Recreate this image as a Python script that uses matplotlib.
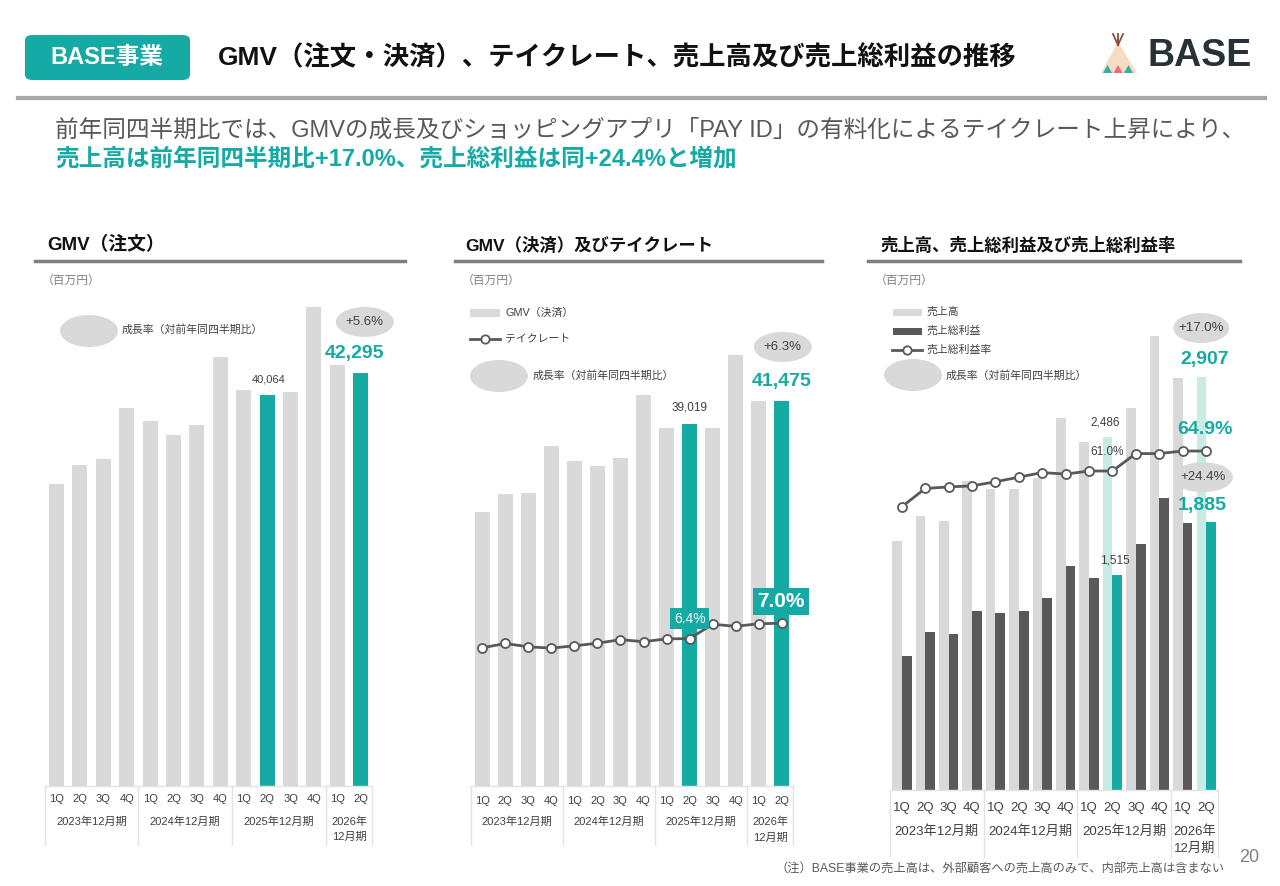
import matplotlib
matplotlib.use("Agg")
import matplotlib.pyplot as plt
from matplotlib.patches import Ellipse, FancyBboxPatch, Polygon, Rectangle
from matplotlib.lines import Line2D
from matplotlib.transforms import blended_transform_factory

plt.rcParams['font.family'] = ['Liberation Sans', 'Noto Sans CJK JP', 'DejaVu Sans']

# ---- data (百万円, %) ----
quarters = ["1Q", "2Q", "3Q", "4Q"] * 3 + ["1Q", "2Q"]
fiscal_years = ["2023年12月期", "2024年12月期", "2025年12月期", "2026年\n12月期"]
year_groups = [(0, 3), (4, 7), (8, 11), (12, 13)]
gmv_order = [30925, 32870, 33485, 38740, 37410, 35940, 36970, 43930,
             40550, 40064, 40350, 49020, 43110, 42295]
gmv_payment = [29510, 31450, 31560, 36650, 35000, 34460, 35290, 42080,
               38590, 39019, 38520, 46390, 41500, 41475]
take_rate = [6.04, 6.21, 6.08, 6.03, 6.12, 6.22, 6.36, 6.28,
             6.39, 6.40, 6.96, 6.88, 6.98, 7.00]
revenue = [1755, 1929, 1896, 2176, 2117, 2117, 2194, 2621,
           2450, 2486, 2692, 3199, 2900, 2907]
gross_profit = [946, 1112, 1096, 1262, 1244, 1262, 1350, 1579,
                1490, 1515, 1730, 2054, 1880, 1885]
gp_margin = [54.0, 57.6, 57.9, 58.1, 58.9, 59.8, 60.7, 60.4,
             61.0, 61.0, 64.4, 64.4, 64.9, 64.9]
highlight = [9, 13]

GRAY = '#D9D9D9'
DARK = '#595959'
TEAL = '#15ABA4'
LTEAL = '#C8ECE5'
TXT = '#404040'

W, H = 1280, 886
fig = plt.figure(figsize=(W / 100, H / 100), dpi=100)


def fy(p):
    return 1 - p / H


def ftext(x, y, s, **kw):
    fig.text(x / W, fy(y), s, **kw)


def fellipse(cx, cy, w, h):
    fig.add_artist(Ellipse((cx / W, fy(cy)), w / W, h / H, transform=fig.transFigure,
                           fc=GRAY, ec='none'))


def frect(x, y, w, h, color):
    fig.add_artist(Rectangle((x / W, fy(y + h)), w / W, h / H, transform=fig.transFigure,
                             fc=color, ec='none'))


def fline(x0, x1, y, color, lw, marker_x=None):
    fig.add_artist(Line2D([x0 / W, x1 / W], [fy(y), fy(y)], transform=fig.transFigure,
                          color=color, lw=lw))
    if marker_x is not None:
        fig.add_artist(Line2D([marker_x / W], [fy(y)], transform=fig.transFigure, marker='o',
                              ms=6, mfc='white', mec=DARK, mew=1.3, color=DARK))


def to_px(ax, x, y):
    # data -> figure pixels measured from top
    dx, dy = ax.transData.transform((x, y))
    return dx, H - dy


def add_panel(x0, x1, base, top, ymax):
    ax = fig.add_axes([x0 / W, fy(base), (x1 - x0) / W, (base - top) / H])
    ax.set_xlim(-0.5, 13.5)
    ax.set_ylim(0, ymax)
    ax.axis('off')
    return ax


def draw_categories(ax, base, q_y, y_y, y2_y, bottom, size):
    tr = blended_transform_factory(ax.transData, fig.transFigure)
    for i, q in enumerate(quarters):
        ax.text(i, fy(q_y), q, transform=tr, ha='center', va='center', fontsize=size, color=TXT)
    for label, (s, e) in zip(fiscal_years, year_groups):
        c = (s + e) / 2
        lines = label.split('\n')
        ax.text(c, fy(y_y), lines[0], transform=tr, ha='center', va='center', fontsize=size, color=TXT)
        if len(lines) > 1:
            ax.text(c, fy(y2_y), lines[1], transform=tr, ha='center', va='center', fontsize=size, color=TXT)
    ax.plot([-0.5, 13.5], [fy(base), fy(base)], transform=tr, color='#E3E3E3', lw=1, clip_on=False)
    for sx in [-0.5, 3.5, 7.5, 11.5, 13.5]:
        ax.plot([sx, sx], [fy(base), fy(bottom)], transform=tr, color='#E3E3E3', lw=1, clip_on=False)


def label_at(ax, x, y, dx, dy, s, **kw):
    px, py = to_px(ax, x, y)
    ftext(px + dx, py + dy, s, ha='center', va='center', **kw)


def ellipse_at(ax, x, y, dx, dy, w, h, s):
    px, py = to_px(ax, x, y)
    fellipse(px + dx, py + dy, w, h)
    ftext(px + dx, py + dy, s, ha='center', va='center', fontsize=9.5, color=TXT)


# ---- header ----
fig.add_artist(FancyBboxPatch((25 / W, fy(80)), 165 / W, 45 / H, transform=fig.transFigure,
                              boxstyle='round,pad=0,rounding_size=0.006', fc=TEAL, ec='none'))
ftext(107, 57, "BASE事業", ha='center', va='center', fontsize=17, fontweight='bold', color='white')
ftext(218, 58, "GMV（注文・決済）、テイクレート、売上高及び売上総利益の推移",
      ha='left', va='center', fontsize=19, fontweight='bold', color='#111111')
fline(18, 1265, 98, '#A6A6A6', 3)
ftext(55, 131, "前年同四半期比では、GMVの成長及びショッピングアプリ「PAY ID」の有料化によるテイクレート上昇により、",
      ha='left', va='center', fontsize=17, color=DARK)
ftext(55, 160, "売上高は前年同四半期比+17.0%、売上総利益は同+24.4%と増加",
      ha='left', va='center', fontsize=17, fontweight='bold', color=TEAL)

# logo
fig.add_artist(Polygon([(1101 / W, fy(73)), (1118 / W, fy(42)), (1137 / W, fy(73))],
                       closed=True, transform=fig.transFigure, fc='#F7DCC3', ec='none'))
for tx, c in [(1103, '#2BB3A0'), (1113.5, '#E96A7E'), (1124, '#2BB3A0')]:
    fig.add_artist(Polygon([(tx / W, fy(73)), ((tx + 4.5) / W, fy(65)), ((tx + 9) / W, fy(73))],
                           closed=True, transform=fig.transFigure, fc=c, ec='none'))
for ex in [1113, 1118, 1123]:
    fig.add_artist(Line2D([1118 / W, ex / W], [fy(45), fy(34)], transform=fig.transFigure,
                          color='#8C4B3C', lw=1.3))
ftext(1148, 56, "BASE", ha='left', va='center', fontsize=27, fontweight='bold', color='#263238')

# section headers
for hx, lx0, lx1, title, fs in [(47, 35, 405, "GMV（注文）", 13.5),
                                 (465, 455, 822, "GMV（決済）及びテイクレート", 12.5),
                                 (880, 868, 1240, "売上高、売上総利益及び売上総利益率", 12.5)]:
    ftext(hx, 245, title, ha='left', va='center', fontsize=fs, fontweight='bold', color='#111111')
    fline(lx0, lx1, 261, '#808080', 2.5)
for ux in [42, 462, 875]:
    ftext(ux, 281, "（百万円）", ha='left', va='center', fontsize=8.5, color='#808080')

# ---- panel 1: GMV (注文) ----
ax1 = add_panel(44.8, 372.5, 786, 290, 50790)
c1 = [TEAL if i in highlight else GRAY for i in range(14)]
ax1.bar(range(14), gmv_order, width=0.64, color=c1)
draw_categories(ax1, 786, 799, 822, 837, 845, 8)
fellipse(89, 331, 58, 32)
ftext(122, 330, "成長率（対前年同四半期比）", ha='left', va='center', fontsize=7.8, color=TXT)
ellipse_at(ax1, 13, gmv_order[13], 4, -51, 58, 30, "+5.6%")
label_at(ax1, 13, gmv_order[13], -6, -19, f"{gmv_order[13]:,}", fontsize=14, fontweight='bold', color=TEAL)
label_at(ax1, 9, gmv_order[9], 1, -15, f"{gmv_order[9]:,}", fontsize=8, color=TXT)

# ---- panel 2: GMV (決済) and take rate ----
ax2 = add_panel(470.7, 793.3, 786, 290, 53420)
ax2.bar(range(14), gmv_payment, width=0.65, color=c1)
ax2r = ax2.twinx()
ax2r.set_ylim(0.65, 20.0)
ax2r.axis('off')
ax2r.plot(range(14), take_rate, color=DARK, lw=2, marker='o', ms=6.5, mfc='white', mec=DARK, mew=1.3)
draw_categories(ax2, 786, 801, 822, 838, 845, 8)
frect(470, 309, 30, 8, GRAY)
ftext(505, 313, "GMV（決済）", ha='left', va='center', fontsize=7.8, color=TXT)
fline(470, 500, 339, DARK, 2, marker_x=485)
ftext(505, 339, "テイクレート", ha='left', va='center', fontsize=7.8, color=TXT)
fellipse(499, 376, 58, 32)
ftext(533, 376, "成長率（対前年同四半期比）", ha='left', va='center', fontsize=7.8, color=TXT)
ellipse_at(ax2, 13, gmv_payment[13], 1, -54, 58, 30, "+6.3%")
label_at(ax2, 13, gmv_payment[13], 0, -19, f"{gmv_payment[13]:,}", fontsize=14, fontweight='bold', color=TEAL)
label_at(ax2, 9, gmv_payment[9], 0, -16, f"{gmv_payment[9]:,}", fontsize=8.5, color=TXT)
px, py = to_px(ax2r, 9, take_rate[9])
ftext(px, py - 20, f"{take_rate[9]:.1f}%", ha='center', va='center', fontsize=10, color='white',
      bbox=dict(boxstyle='square,pad=0.25', fc=TEAL, ec='none'))
px, py = to_px(ax2r, 13, take_rate[13])
ftext(px - 1, py - 22, f"{take_rate[13]:.1f}%", ha='center', va='center', fontsize=15,
      fontweight='bold', color='white', bbox=dict(boxstyle='square,pad=0.2', fc=TEAL, ec='none'))

# ---- panel 3: revenue, gross profit, margin ----
ax3 = add_panel(890, 1217.7, 790, 290, 3520)
xs = list(range(14))
rc = [LTEAL if i in highlight else GRAY for i in xs]
gc = [TEAL if i in highlight else DARK for i in xs]
ax3.bar([x - 0.2 for x in xs], revenue, width=0.41, color=rc)
ax3.bar([x + 0.21 for x in xs], gross_profit, width=0.42, color=gc)
ax3r = ax3.twinx()
ax3r.set_ylim(-1.2, 96.3)
ax3r.axis('off')
ax3r.plot(xs, gp_margin, color=DARK, lw=2, marker='o', ms=6.5, mfc='white', mec=DARK, mew=1.3)
draw_categories(ax3, 790, 808, 832, 849, 857, 9.5)
frect(893, 309, 29, 7, GRAY)
ftext(927, 312, "売上高", ha='left', va='center', fontsize=7.8, color=TXT)
frect(893, 328, 29, 7, DARK)
ftext(927, 331, "売上総利益", ha='left', va='center', fontsize=7.8, color=TXT)
fline(892, 922, 350, DARK, 2, marker_x=907)
ftext(927, 350, "売上総利益率", ha='left', va='center', fontsize=7.8, color=TXT)
fellipse(913, 375, 58, 32)
ftext(946, 376, "成長率（対前年同四半期比）", ha='left', va='center', fontsize=7.8, color=TXT)
ellipse_at(ax3, 12.8, revenue[13], 0, -49, 56, 30, "+17.0%")
label_at(ax3, 12.8, revenue[13], 3, -18, f"{revenue[13]:,}", fontsize=14, fontweight='bold', color=TEAL)
label_at(ax3, 8.8, revenue[9], -2, -14, f"{revenue[9]:,}", fontsize=8.5, color=TXT)
label_at(ax3r, 9, gp_margin[9], -5, -19, f"{gp_margin[9]:.1f}%", fontsize=8.5, color=TXT)
label_at(ax3r, 13, gp_margin[13], -1, -22, f"{gp_margin[13]:.1f}%", fontsize=14, fontweight='bold', color=TEAL)
ellipse_at(ax3, 13.21, gross_profit[13], -8, -45, 60, 30, "+24.4%")
label_at(ax3, 13.21, gross_profit[13], -9, -17, f"{gross_profit[13]:,}", fontsize=14, fontweight='bold', color=TEAL)
label_at(ax3, 9.21, gross_profit[9], -2, -14, f"{gross_profit[9]:,}", fontsize=8.5, color=TXT)

# footer
ftext(1225, 869, "（注）BASE事業の売上高は、外部顧客への売上高のみで、内部売上高は含まない",
      ha='right', va='center', fontsize=8.8, color=DARK)
ftext(1259, 857, "20", ha='right', va='center', fontsize=13, color='#7F7F7F')

fig.savefig("out.png", dpi=100)
